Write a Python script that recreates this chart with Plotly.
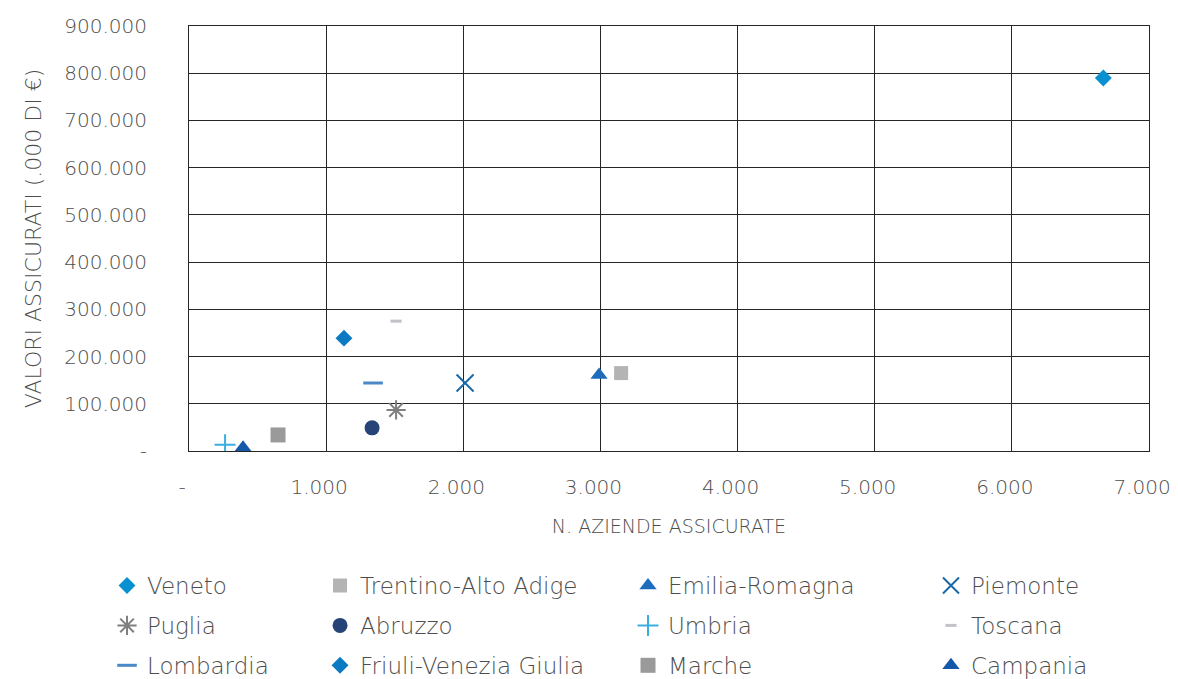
import plotly.graph_objects as go

regions = ["Veneto", "Trentino-Alto Adige", "Emilia-Romagna", "Piemonte",
           "Puglia", "Abruzzo", "Umbria", "Toscana",
           "Lombardia", "Friuli-Venezia Giulia", "Marche", "Campania"]
aziende = [6667, 3151, 2990, 2013, 1510, 1335, 263, 1510, 1342, 1130, 649, 394]
valori = [790000, 165000, 161000, 144000, 87000, 49000, 13000, 275000, 144000, 239000, 34000, 7000]

symbols = ["diamond", "square", "triangle-up", "x-thin", "asterisk", "circle", "cross-thin",
           "line-ew", "line-ew", "diamond", "square", "triangle-up"]
colors = ["#0990d0", "#b4b4b4", "#1e6cbc", "#1a6aa8", "#7f7f7f", "#264478", "#3aaee0",
          "#c2c2c8", "#4a88c8", "#0a7ac2", "#9a9a9a", "#1558a8"]
sizes = [13, 14, 15, 17, 16, 15, 15, 8, 14, 13, 15, 15]

x_ticks = [0, 1000, 2000, 3000, 4000, 5000, 6000, 7000]
x_labels = ["-", "1.000", "2.000", "3.000", "4.000", "5.000", "6.000", "7.000"]
y_ticks = [0, 100000, 200000, 300000, 400000, 500000, 600000, 700000, 800000, 900000]
y_labels = ["-", "100.000", "200.000", "300.000", "400.000", "500.000", "600.000",
            "700.000", "800.000", "900.000"]

legend_names = ["legend", "legend2", "legend3", "legend4"]

fig = go.Figure()
for i, (name, xv, yv, sym, col, sz) in enumerate(zip(regions, aziende, valori, symbols, colors, sizes)):
    line_sym = sym in ("x-thin", "asterisk", "cross-thin", "line-ew")
    fig.add_trace(go.Scatter(
        x=[xv], y=[yv], mode="markers", name=name,
        legend=legend_names[i % 4], legendgroup=name,
        marker=dict(symbol=sym, size=sz, color=col,
                    line=dict(color=col, width=3 if sym == "line-ew" else (2 if line_sym else 0))),
    ))

font_family = "'DejaVu Sans', sans-serif"
txt = "#4d4d4d"
leg_common = dict(orientation="v", y=-0.266, xanchor="left", yanchor="top",
                  font=dict(size=23, color=txt, family=font_family, weight=200),
                  tracegroupgap=7, itemwidth=30, bgcolor="rgba(0,0,0,0)")
leg_x = [-0.0854, 0.1365, 0.4573, 0.7729]

# page body has an 8px margin: figure drawn at 1170x671 so it fits the 1178x679 window
fig.update_layout(
    width=1170, height=671,
    margin=dict(l=181, r=29, t=18, b=228, autoexpand=False),
    paper_bgcolor="white", plot_bgcolor="white",
    font=dict(family=font_family, color=txt, size=20, weight=200),
    showlegend=True,
    legend=dict(x=leg_x[0], **leg_common),
    legend2=dict(x=leg_x[1], **leg_common),
    legend3=dict(x=leg_x[2], **leg_common),
    legend4=dict(x=leg_x[3], **leg_common),
    xaxis=dict(range=[0, 7000], tickvals=x_ticks, ticktext=x_labels, automargin=False,
               showgrid=True, gridcolor="#262626", gridwidth=1, zeroline=False,
               showline=True, linecolor="#262626", linewidth=1, mirror=True,
               ticks="", ticklabelstandoff=18, ticklabelshift=-7,
               title=dict(text="N. AZIENDE ASSICURATE", font=dict(size=19, color=txt), standoff=21),
               tickfont=dict(size=20, color=txt)),
    yaxis=dict(range=[0, 900000], tickvals=y_ticks, ticktext=y_labels, automargin=False,
               showgrid=True, gridcolor="#262626", gridwidth=1, zeroline=False,
               showline=True, linecolor="#262626", linewidth=1, mirror=True,
               ticks="", ticklabelstandoff=37,
               title=dict(text="VALORI ASSICURATI (.000 DI €)", font=dict(size=22, color=txt), standoff=16),
               tickfont=dict(size=20, color=txt)),
)

fig.write_html("out.html")
